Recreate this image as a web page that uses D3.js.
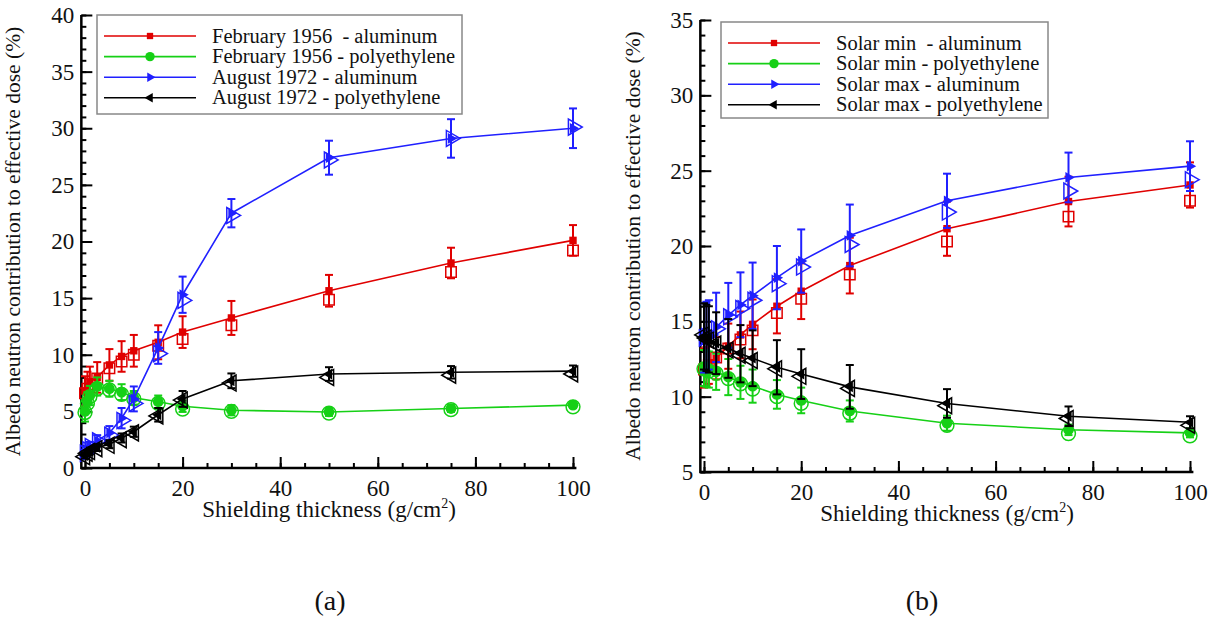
<!DOCTYPE html>
<html>
<head>
<meta charset="utf-8">
<script src="https://cdn.jsdelivr.net/npm/d3@7"></script>
<style>
  body { margin: 0; background: #fff; }
  svg text { font-family: "Liberation Serif", "Times New Roman", serif; white-space: pre; }
</style>
</head>
<body>
<div id="chart-area"></div>
<script>
// shielding thickness (g/cm2), same for both panels
var thick = [0, 0.5, 1, 2.5, 5, 7.5, 10, 15, 20, 30, 50, 75, 100];

// panel (a) - SPE events
var febAl    = [6.8, 7.2, 7.6, 8.0, 9.1, 9.85, 10.35, 11.1, 12.0, 13.25, 15.65, 18.1, 20.1];
var febAlMc  = [6.6, 7.0, 7.4, 7.9, 8.8, 9.4, 10.0, 10.8, 11.4, 12.6, 14.85, 17.3, 19.2];
var febAlErr = [1.3, 1.3, 1.35, 1.35, 1.4, 1.35, 1.4, 1.5, 1.4, 1.5, 1.4, 1.35, 1.35];

var febPe    = [5.0, 5.8, 6.4, 7.2, 7.0, 6.7, 6.2, 5.85, 5.45, 5.1, 4.95, 5.25, 5.55];
var febPeMc  = [4.9, 5.7, 6.3, 7.0, 6.9, 6.5, 6.1, 5.7, 5.2, 5.0, 4.85, 5.15, 5.4];
var febPeErr = [0.9, 0.9, 0.85, 0.8, 0.7, 0.7, 0.6, 0.55, 0.5, 0.45, 0.35, 0.3, 0.25];

var augAl    = [1.3, 1.6, 1.9, 2.4, 3.1, 4.4, 6.1, 10.6, 15.3, 22.5, 27.4, 29.1, 30.0];
var augAlMc  = [1.3, 1.6, 1.9, 2.4, 2.9, 4.2, 5.7, 10.1, 14.8, 22.3, 27.2, 29.1, 30.1];
var augAlErr = [0.3, 0.35, 0.4, 0.5, 0.6, 0.9, 1.1, 1.4, 1.6, 1.25, 1.5, 1.7, 1.75];

var augPe    = [1.1, 1.35, 1.5, 1.8, 2.1, 2.65, 3.2, 4.7, 6.1, 7.7, 8.3, 8.45, 8.55];
var augPeMc  = [1.0, 1.3, 1.45, 1.7, 2.0, 2.5, 3.1, 4.6, 6.0, 7.5, 8.0, 8.2, 8.3];
var augPeErr = [0.25, 0.25, 0.3, 0.3, 0.35, 0.4, 0.45, 0.6, 0.7, 0.65, 0.6, 0.55, 0.5];

// panel (b) - GCR solar min / max
var minAl    = [11.9, 12.0, 12.2, 12.55, 13.35, 14.1, 14.8, 16.0, 17.0, 18.7, 21.15, 22.95, 24.05];
var minAlMc  = [11.8, 11.9, 12.1, 12.6, 13.2, 13.8, 14.4, 15.55, 16.5, 18.1, 20.3, 21.95, 23.0];
var minAlErr = [1.3, 1.3, 1.35, 1.4, 1.5, 1.55, 1.65, 1.8, 1.85, 1.85, 1.8, 1.65, 1.5];

var minPe    = [11.9, 11.85, 11.8, 11.65, 11.3, 10.95, 10.7, 10.15, 9.75, 9.05, 8.24, 7.8, 7.6];
var minPeMc  = [11.85, 11.8, 11.7, 11.55, 11.2, 10.85, 10.5, 10.0, 9.55, 8.9, 8.1, 7.55, 7.4];
var minPeErr = [1.2, 1.2, 1.2, 1.2, 1.2, 1.1, 1.1, 0.95, 0.85, 0.7, 0.5, 0.35, 0.3];

var maxAl    = [13.9, 14.0, 14.1, 14.6, 15.4, 16.1, 16.7, 17.9, 19.0, 20.7, 23.0, 24.55, 25.3];
var maxAlMc  = [13.9, 14.0, 14.1, 14.5, 15.3, 15.85, 16.4, 17.5, 18.6, 20.1, 22.25, 23.65, 24.4];
var maxAlErr = [2.3, 2.3, 2.3, 2.3, 2.15, 2.15, 2.2, 2.1, 2.1, 2.05, 1.8, 1.65, 1.65];

var maxPe    = [14.0, 13.9, 13.8, 13.55, 13.2, 12.85, 12.55, 11.95, 11.5, 10.65, 9.55, 8.7, 8.3];
var maxPeMc  = [14.1, 13.9, 13.75, 13.5, 13.1, 12.75, 12.4, 11.85, 11.35, 10.55, 9.4, 8.55, 8.1];
var maxPeErr = [2.2, 2.2, 2.2, 2.05, 1.95, 1.9, 1.85, 1.8, 1.65, 1.45, 0.95, 0.65, 0.4];

var labelsA = ["February 1956  - aluminum", "February 1956 - polyethylene", "August 1972 - aluminum", "August 1972 - polyethylene"];
var labelsB = ["Solar min  - aluminum", "Solar min - polyethylene", "Solar max - aluminum", "Solar max - polyethylene"];
var xTicks = [0, 20, 40, 60, 80, 100];
var yTicksA = [0, 5, 10, 15, 20, 25, 30, 35, 40];
var yTicksB = [5, 10, 15, 20, 25, 30, 35];

var colors = ["#e00000", "#16d016", "#2020ff", "#000000"];
var shapes = ["square", "circle", "right", "left"];
var serif = "Liberation Serif, Times New Roman, serif";

var svg = d3.select("#chart-area").append("svg").attr("width", 1214).attr("height", 619);

function marker(shape, size) {
    var type = shape == "square" ? d3.symbolSquare : shape == "circle" ? d3.symbolCircle : d3.symbolTriangle;
    return d3.symbol().type(type).size(size)();
}
function markerRot(shape) {
    if (shape == "right") return " rotate(90)";
    if (shape == "left") return " rotate(-90)";
    return "";
}

function drawPanel(cfg) {
    var x = d3.scaleLinear().domain([0, 100]).range(cfg.xRange);
    var y = d3.scaleLinear().domain(cfg.yDomain).range(cfg.yRange);
    var g = svg.append("g").attr("font-family", serif);

    var x0 = x(-0.75), x1 = x(100.7);
    var yb = y(cfg.yDomain[0]), yt = y(cfg.yDomain[1]);

    // minor ticks
    g.append("g").attr("transform", "translate(0," + yb + ")")
        .call(d3.axisBottom(x).tickValues(d3.range(0, 101, 5)).tickSize(-5).tickFormat(""))
        .call(a => a.select(".domain").remove());
    g.append("g").attr("transform", "translate(" + x0 + ",0)")
        .call(d3.axisLeft(y).tickValues(d3.range(cfg.yDomain[0], cfg.yDomain[1] + 1, 1)).tickSize(-5).tickFormat(""))
        .call(a => a.select(".domain").remove());

    // major ticks + labels
    var xAxis = g.append("g").attr("transform", "translate(0," + yb + ")")
        .call(d3.axisBottom(x).tickValues(xTicks).tickSize(-11).tickPadding(7));
    var yAxis = g.append("g").attr("transform", "translate(" + x0 + ",0)")
        .call(d3.axisLeft(y).tickValues(cfg.yTicks).tickSize(-11).tickPadding(7));
    [xAxis, yAxis].forEach(a => {
        a.attr("font-family", serif);
        a.select(".domain").remove();
        a.selectAll("text").attr("font-family", serif).attr("font-size", 23).attr("fill", "#111");
    });
    xAxis.selectAll("text").attr("dy", "0.9em");
    g.selectAll(".tick line").attr("stroke", "#000").attr("stroke-width", 2);

    g.append("path").attr("fill", "none").attr("stroke", "#000").attr("stroke-width", 2.5)
        .attr("d", "M" + x0 + "," + yt + "V" + yb + "H" + x1);

    // axis titles
    var tt = g.append("text").attr("x", (cfg.xRange[0] + cfg.xRange[1]) / 2).attr("y", yb + 49)
        .attr("text-anchor", "middle").attr("font-size", 23).attr("fill", "#111");
    tt.append("tspan").text("Shielding thickness (g/cm");
    tt.append("tspan").attr("dy", -9).attr("font-size", 14).text("2");
    tt.append("tspan").attr("dy", 9).text(")");

    g.append("text").attr("transform", "translate(" + cfg.yTitleX + "," + (yb + yt) / 2 + ") rotate(-90)")
        .attr("text-anchor", "middle").attr("font-size", 21.5).attr("fill", "#111")
        .text("Albedo neutron contribution to effective dose (%)");

    // series
    cfg.series.forEach((s, i) => {
        var col = colors[i], shp = shapes[i];
        var pts = thick.map((t, j) => ({t: t, v: s.v[j], mc: s.mc[j], e: s.err[j]}));
        var sg = g.append("g");

        // error bars
        var eb = sg.selectAll(".eb").data(pts).enter().append("g")
            .attr("stroke", col).attr("stroke-width", 2).attr("fill", "none");
        eb.append("line").attr("x1", d => x(d.t)).attr("x2", d => x(d.t))
            .attr("y1", d => y(d.v - d.e)).attr("y2", d => y(d.v + d.e));
        eb.append("line").attr("x1", d => x(d.t) - 4).attr("x2", d => x(d.t) + 4)
            .attr("y1", d => y(d.v + d.e)).attr("y2", d => y(d.v + d.e));
        eb.append("line").attr("x1", d => x(d.t) - 4).attr("x2", d => x(d.t) + 4)
            .attr("y1", d => y(d.v - d.e)).attr("y2", d => y(d.v - d.e));

        // open markers (second method)
        sg.selectAll(".mc").data(pts).enter().append("path")
            .attr("d", marker(shp, shp == "circle" ? 150 : 110))
            .attr("transform", d => "translate(" + x(d.t) + "," + y(d.mc) + ")" + markerRot(shp))
            .attr("fill", "none").attr("stroke", col).attr("stroke-width", 1.5);

        // line + filled markers
        sg.append("path").datum(pts)
            .attr("fill", "none").attr("stroke", col).attr("stroke-width", 1.6)
            .attr("d", d3.line().x(d => x(d.t)).y(d => y(d.v)));
        sg.selectAll(".pt").data(pts).enter().append("path")
            .attr("d", marker(shp, shp == "circle" ? 90 : shp == "square" ? 55 : 50))
            .attr("transform", d => "translate(" + x(d.t) + "," + y(d.v) + ")" + markerRot(shp))
            .attr("fill", col);
    });

    // legend
    var L = cfg.legend;
    var lg = g.append("g");
    lg.append("rect").attr("x", L.x).attr("y", L.y).attr("width", L.w).attr("height", L.h)
        .attr("fill", "#fff").attr("stroke", "#888").attr("stroke-width", 1.5);
    cfg.labels.forEach((lab, i) => {
        var ry = L.y + 21 + i * 20.6;
        lg.append("line").attr("x1", L.x + 7).attr("x2", L.x + 99).attr("y1", ry).attr("y2", ry)
            .attr("stroke", colors[i]).attr("stroke-width", 1.6);
        lg.append("path").attr("d", marker(shapes[i], shapes[i] == "circle" ? 70 : 40))
            .attr("transform", "translate(" + (L.x + 53) + "," + ry + ")" + markerRot(shapes[i]))
            .attr("fill", colors[i]);
        lg.append("text").attr("x", L.x + 115).attr("y", ry + 6.5).attr("font-size", 20.5).attr("fill", "#111").text(lab);
    });

    svg.append("text").attr("x", cfg.caption[0]).attr("y", 610).attr("text-anchor", "middle")
        .attr("font-family", serif).attr("font-size", 28).attr("fill", "#111").text(cfg.caption[1]);
}

drawPanel({
    xRange: [85, 573], yDomain: [0, 40], yRange: [468, 15], yTicks: yTicksA, yTitleX: 20,
    series: [
        {v: febAl, mc: febAlMc, err: febAlErr},
        {v: febPe, mc: febPeMc, err: febPeErr},
        {v: augAl, mc: augAlMc, err: augAlErr},
        {v: augPe, mc: augPeMc, err: augPeErr}
    ],
    labels: labelsA, legend: {x: 97, y: 15, w: 365, h: 99}, caption: [330, "(a)"]
});

drawPanel({
    xRange: [704, 1190], yDomain: [5, 35], yRange: [472, 20], yTicks: yTicksB, yTitleX: 640,
    series: [
        {v: minAl, mc: minAlMc, err: minAlErr},
        {v: minPe, mc: minPeMc, err: minPeErr},
        {v: maxAl, mc: maxAlMc, err: maxAlErr},
        {v: maxPe, mc: maxPeMc, err: maxPeErr}
    ],
    labels: labelsB, legend: {x: 721, y: 22, w: 327, h: 96}, caption: [922, "(b)"]
});
</script>
</body>
</html>
